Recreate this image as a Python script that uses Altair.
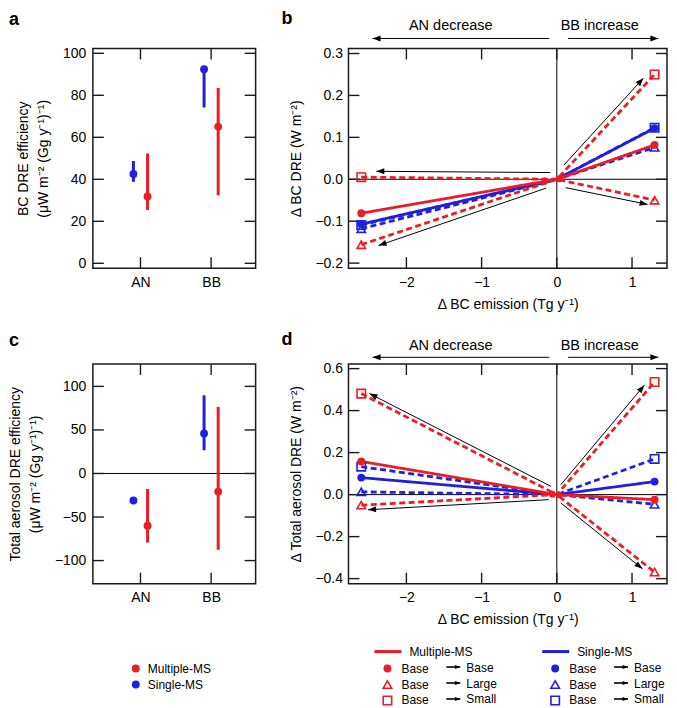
import math
import altair as alt
import pandas as pd

RED = "#ec1c24"
BLUE = "#1f1fe0"
FRAME = "#1a1a1a"
FONT = "Liberation Sans"

# ---------------- data ----------------
groups = ["AN", "BB"]
models = ["Multiple-MS", "Single-MS"]
scenarios = ["Base", "Large", "Small"]

# panel a : BC DRE efficiency
a_red_mid = [31.8, 65.1]
a_red_lo = [25.4, 32.4]
a_red_hi = [52.3, 83.5]
a_blue_mid = [42.5, 92.4]
a_blue_lo = [38.8, 74.2]
a_blue_hi = [48.7, 92.4]

# panel c : total aerosol DRE efficiency
c_red_mid = [-60.0, -20.8]
c_red_lo = [-79.3, -87.6]
c_red_hi = [-17.8, 76.5]
c_blue_mid = [-31.0, 46.0]
c_blue_lo = [-31.0, 26.7]
c_blue_hi = [-31.0, 89.8]

# panels b, d : delta BC emission (AN decrease, origin, BB increase)
emission = [-2.6, 0.0, 1.3]
b_red_base = [-0.081, 0.0, 0.082]
b_red_large = [-0.156, 0.0, -0.050]
b_red_small = [0.005, 0.0, 0.250]
b_blue_base = [-0.107, 0.0, 0.122]
b_blue_large = [-0.118, 0.0, 0.076]
b_blue_small = [-0.109, 0.0, 0.123]

d_red_base = [0.158, 0.0, -0.024]
d_red_large = [-0.050, 0.0, -0.369]
d_red_small = [0.481, 0.0, 0.536]
d_blue_base = [0.081, 0.0, 0.062]
d_blue_large = [0.013, 0.0, -0.046]
d_blue_small = [0.133, 0.0, 0.170]

# small Multiple-MS markers near the origin
b_origin_x = [-0.16, 0.03]
b_origin_y = [-0.004, 0.001]
d_origin_x = [-0.06, 0.03]
d_origin_y = [0.002, -0.001]

# annotation arrows inside panels (tail -> head)
b_arrow_x1 = [-0.085, -0.14, 0.095, 0.117]
b_arrow_y1 = [0.016, -0.021, 0.034, -0.020]
b_arrow_x2 = [-2.40, -2.37, 1.15, 1.207]
b_arrow_y2 = [0.019, -0.158, 0.241, -0.060]
d_arrow_x1 = [-0.077, -0.107, 0.053, 0.053]
d_arrow_y1 = [0.039, -0.024, 0.047, -0.040]
d_arrow_x2 = [-2.49, -2.51, 1.164, 1.138]
d_arrow_y2 = [0.481, -0.072, 0.521, -0.353]

header_text = ["AN decrease", "BB increase"]
header_text_x = [-1.41, 0.57]
header_arrow_x1 = [-0.10, 0.15]
header_arrow_x2 = [-2.45, 1.35]

# ---------------- layout / style ----------------
W_L, W_R, H = 163, 319, 220
COL_GAP, ROW_GAP = 93, 96
TL = 11  # inward tick length
ARROW = "M0,0L2,-0.75L2,0.75Z"
EFF_XDOM = [0.326, 2.63]
RESP_XDOM = [-2.77, 1.465]

color_scale = alt.Scale(domain=models, range=[RED, BLUE])


def inward_ticks(xenc, yenc, xvals, yvals, W):
    dfy = pd.DataFrame({"v": yvals})
    dfx = pd.DataFrame({"v": xvals})
    by = alt.Chart(dfy).mark_rule(color=FRAME, strokeWidth=1.4)
    bx = alt.Chart(dfx).mark_rule(color=FRAME, strokeWidth=1.4)
    return [
        by.encode(y=yenc("v"), x=alt.value(0), x2=alt.value(TL)),
        by.encode(y=yenc("v"), x=alt.value(W - TL), x2=alt.value(W)),
        bx.encode(x=xenc("v"), y=alt.value(0), y2=alt.value(TL)),
        bx.encode(x=xenc("v"), y=alt.value(H - TL), y2=alt.value(H)),
    ]


def panel_label(label, lx, ly):
    return alt.Chart(pd.DataFrame({"t": [label]})).mark_text(
        font=FONT, fontSize=18, fontWeight="bold", align="left",
        baseline="alphabetic", color="black"
    ).encode(text="t:N", x=alt.value(lx), y=alt.value(ly))


def eff_panel(mid_r, lo_r, hi_r, mid_b, lo_b, hi_b, ydom, yvals, title,
              title_x, label, label_y, zero_line):
    pos, model, mid, lo, hi = [], [], [], [], []
    for i in range(len(groups)):
        for m, dx, M, L, U in (("Single-MS", -0.1, mid_b, lo_b, hi_b),
                               ("Multiple-MS", 0.1, mid_r, lo_r, hi_r)):
            pos.append(i + 1 + dx)
            model.append(m)
            mid.append(M[i])
            lo.append(L[i])
            hi.append(U[i])
    df = pd.DataFrame(dict(pos=pos, model=model, mid=mid, lo=lo, hi=hi))
    xs = alt.Scale(domain=EFF_XDOM, nice=False, zero=False)
    ys = alt.Scale(domain=ydom, nice=False, zero=False)
    lab_expr = f"datum.value == 1 ? '{groups[0]}' : '{groups[1]}'"
    xax = alt.Axis(values=[1, 2], labelExpr=lab_expr, title=None, ticks=False,
                   tickSize=0, domain=False, grid=False, labelPadding=7)
    yax = alt.Axis(values=yvals, format="d", title=title, titleX=title_x,
                   titleY=H / 2, titleAngle=270, titleAlign="center",
                   titleBaseline="alphabetic", titleLineHeight=19.5,
                   ticks=False, tickSize=0, domain=False, grid=False,
                   labelPadding=7)

    def X(f):
        return alt.X(f, type="quantitative", scale=xs, axis=xax)

    def Y(f):
        return alt.Y(f, type="quantitative", scale=ys, axis=yax)

    col = alt.Color("model:N", scale=color_scale, legend=None)
    layers = []
    if zero_line:
        layers.append(alt.Chart(pd.DataFrame({"v": [0]})).mark_rule(
            color="black", strokeWidth=1).encode(
            y=Y("v"), x=alt.value(0), x2=alt.value(W_L)))
    layers += inward_ticks(X, Y, [1, 2], yvals, W_L)
    layers.append(alt.Chart(df).mark_rule(strokeWidth=3).encode(
        x=X("pos"), y=Y("lo"), y2="hi", color=col))
    layers.append(alt.Chart(df).mark_circle(size=62, opacity=1).encode(
        x=X("pos"), y=Y("mid"), color=col))
    layers.append(panel_label(label, -84, label_y))
    return alt.layer(*layers).properties(
        width=W_L, height=H,
        view=alt.ViewBackground(stroke=FRAME, strokeWidth=1.5))


def resp_panel(series, ox, oy, ax1, ay1, ax2, ay2, ydom, yvals, ytitle,
               label, label_y, hdr_text_y, hdr_arrow_y):
    xs = alt.Scale(domain=RESP_XDOM, nice=False, zero=False)
    ys = alt.Scale(domain=ydom, nice=False, zero=False)
    xax = alt.Axis(values=[-2, -1, 0, 1], format="d",
                   title="Δ BC emission (Tg y⁻¹)", titleX=W_R / 2, titleY=40,
                   titleAlign="center", titleBaseline="alphabetic",
                   ticks=False, tickSize=0, domain=False, grid=False,
                   labelPadding=7)
    yax = alt.Axis(values=yvals, format=".1f", title=ytitle, titleX=-48,
                   titleY=H / 2, titleAngle=270, titleAlign="center",
                   titleBaseline="alphabetic", ticks=False, tickSize=0,
                   domain=False, grid=False, labelPadding=6)

    def X(f):
        return alt.X(f, type="quantitative", scale=xs, axis=xax)

    def Y(f):
        return alt.Y(f, type="quantitative", scale=ys, axis=yax)

    px_x = W_R / (RESP_XDOM[1] - RESP_XDOM[0])
    px_y = H / (ydom[1] - ydom[0])

    rows = []
    for m, s, vals in series:
        for xi, yi in zip(emission, vals):
            rows.append(dict(model=m, scen=s, x=xi, y=yi))
    df = pd.DataFrame(rows)
    ends = df[df["x"] != 0]
    col = alt.Color("model:N", scale=color_scale, legend=None)
    dash = alt.StrokeDash("scen:N", scale=alt.Scale(
        domain=scenarios, range=[[1, 0], [6, 3.5], [6, 3.5]]), legend=None)
    shp = alt.Shape("scen:N", scale=alt.Scale(
        domain=["Large", "Small"], range=["triangle-up", "square"]), legend=None)

    zero = pd.DataFrame({"v": [0]})
    layers = [
        alt.Chart(zero).mark_rule(color="black", strokeWidth=1).encode(
            x=X("v"), y=alt.value(0), y2=alt.value(H)),
        alt.Chart(zero).mark_rule(color="black", strokeWidth=1).encode(
            y=Y("v"), x=alt.value(0), x2=alt.value(W_R)),
    ]
    layers += inward_ticks(X, Y, [-2, -1, 0, 1], yvals, W_R)

    # arrows inside panel
    angs = []
    for x1, y1, x2, y2 in zip(ax1, ay1, ax2, ay2):
        dxp = (x2 - x1) * px_x
        dyp = -(y2 - y1) * px_y
        angs.append((math.degrees(math.atan2(dyp, dxp)) - 180) % 360)
    adf = pd.DataFrame(dict(x1=ax1, y1=ay1, x2=ax2, y2=ay2, ang=angs))
    layers.append(alt.Chart(adf).mark_rule(color="black", strokeWidth=1).encode(
        x=X("x1"), y=Y("y1"), x2="x2", y2="y2"))
    layers.append(alt.Chart(adf).mark_point(
        shape=ARROW, filled=True, size=64, color="black", opacity=1,
        strokeWidth=0).encode(x=X("x2"), y=Y("y2"),
                              angle=alt.Angle("ang:Q", scale=None)))

    for m in ["Single-MS", "Multiple-MS"]:
        sub = df[df["model"] == m]
        layers.append(alt.Chart(sub).mark_line(strokeWidth=2.8).encode(
            x=X("x"), y=Y("y"), color=col, strokeDash=dash, detail="scen:N"))
    for m in ["Single-MS", "Multiple-MS"]:
        sub = ends[ends["model"] == m]
        layers.append(alt.Chart(sub[sub["scen"] != "Base"]).mark_point(
            filled=False, size=72, strokeWidth=1.6, opacity=1).encode(
            x=X("x"), y=Y("y"), color=col, shape=shp))
        layers.append(alt.Chart(sub[sub["scen"] == "Base"]).mark_circle(
            size=62, opacity=1).encode(x=X("x"), y=Y("y"), color=col))
    odf = pd.DataFrame(dict(x=ox, y=oy, model=["Multiple-MS"] * len(ox)))
    layers.append(alt.Chart(odf).mark_circle(size=45, opacity=1).encode(
        x=X("x"), y=Y("y"), color=col))

    # header arrows and text above the panel
    hdf = pd.DataFrame(dict(t=header_text, x=header_text_x))
    layers.append(alt.Chart(hdf).mark_text(
        font=FONT, fontSize=14.5, align="center", baseline="alphabetic",
        color="black").encode(x=X("x"), y=alt.value(hdr_text_y), text="t:N"))
    hang = [0 if b < a else 180 for a, b in zip(header_arrow_x1, header_arrow_x2)]
    hadf = pd.DataFrame(dict(x1=header_arrow_x1, x2=header_arrow_x2, ang=hang))
    layers.append(alt.Chart(hadf).mark_rule(color="black", strokeWidth=1).encode(
        x=X("x1"), x2="x2", y=alt.value(hdr_arrow_y)))
    layers.append(alt.Chart(hadf).mark_point(
        shape=ARROW, filled=True, size=64, color="black", opacity=1,
        strokeWidth=0).encode(x=X("x2"), y=alt.value(hdr_arrow_y),
                              angle=alt.Angle("ang:Q", scale=None)))
    layers.append(panel_label(label, -67, label_y))
    return alt.layer(*layers).properties(
        width=W_R, height=H,
        view=alt.ViewBackground(stroke=FRAME, strokeWidth=1.5))


panel_a = eff_panel(a_red_mid, a_red_lo, a_red_hi, a_blue_mid, a_blue_lo,
                    a_blue_hi, [-2.3, 102.3], [0, 20, 40, 60, 80, 100],
                    ["BC DRE efficiency", "(μW m⁻² (Gg y⁻¹)⁻¹)"], -65,
                    "a", -24, False)
panel_c = eff_panel(c_red_mid, c_red_lo, c_red_hi, c_blue_mid, c_blue_lo,
                    c_blue_hi, [-126.5, 125.7], [-100, -50, 0, 50, 100],
                    ["Total aerosol DRE efficiency", "(μW m⁻² (Gg y⁻¹)⁻¹)"],
                    -73, "c", -18.5, True)

b_series = [
    ("Multiple-MS", "Base", b_red_base), ("Multiple-MS", "Large", b_red_large),
    ("Multiple-MS", "Small", b_red_small), ("Single-MS", "Base", b_blue_base),
    ("Single-MS", "Large", b_blue_large), ("Single-MS", "Small", b_blue_small),
]
d_series = [
    ("Multiple-MS", "Base", d_red_base), ("Multiple-MS", "Large", d_red_large),
    ("Multiple-MS", "Small", d_red_small), ("Single-MS", "Base", d_blue_base),
    ("Single-MS", "Large", d_blue_large), ("Single-MS", "Small", d_blue_small),
]
panel_b = resp_panel(b_series, b_origin_x, b_origin_y, b_arrow_x1, b_arrow_y1,
                     b_arrow_x2, b_arrow_y2, [-0.212, 0.312],
                     [-0.2, -0.1, 0.0, 0.1, 0.2, 0.3], "Δ BC DRE (W m⁻²)",
                     "b", -24.5, -18.5, -10)
panel_d = resp_panel(d_series, d_origin_x, d_origin_y, d_arrow_x1, d_arrow_y1,
                     d_arrow_x2, d_arrow_y2, [-0.424, 0.622],
                     [-0.4, -0.2, 0.0, 0.2, 0.4, 0.6],
                     "Δ Total aerosol DRE (W m⁻²)", "d", -19, -14.5, -6.7)

# ---------------- legends (own cells, pixel-identity scales) ----------------
LX = alt.Scale(domain=[0, 100], range=[0, 100])
LY = alt.Scale(domain=[0, 100], range=[0, 100])
LEG_HEAD = -28
LEG_ROWS = [-11, 5, 21]
SHAPES = {"Base": "circle", "Large": "triangle-up", "Small": "square"}
MCOL = {"Multiple-MS": RED, "Single-MS": BLUE}


def lx(f):
    return alt.X(f, type="quantitative", scale=LX, axis=None)


def ly(f):
    return alt.Y(f, type="quantitative", scale=LY, axis=None)


def legend_layers(pts, lines, texts, arrows):
    layers = []
    if lines:
        ldf = pd.DataFrame(lines, columns=["px", "px2", "py", "col"])
        layers.append(alt.Chart(ldf).mark_rule(strokeWidth=3).encode(
            x=lx("px"), x2="px2", y=ly("py"),
            color=alt.Color("col:N", scale=None)))
    if arrows:
        adf = pd.DataFrame(arrows, columns=["px", "px2", "py"])
        adf["ang"] = 180
        layers.append(alt.Chart(adf).mark_rule(
            strokeWidth=1.6, color="black").encode(
            x=lx("px"), x2="px2", y=ly("py")))
        layers.append(alt.Chart(adf).mark_point(
            shape=ARROW, filled=True, size=30, color="black", opacity=1,
            strokeWidth=0).encode(x=lx("px2"), y=ly("py"),
                                  angle=alt.Angle("ang:Q", scale=None)))
    pdf = pd.DataFrame(pts, columns=["px", "py", "col", "shp"])
    filled = pdf[pdf["shp"] == "circle"]
    hollow = pdf[pdf["shp"] != "circle"]
    layers.append(alt.Chart(filled).mark_circle(size=62, opacity=1).encode(
        x=lx("px"), y=ly("py"), color=alt.Color("col:N", scale=None)))
    if len(hollow):
        layers.append(alt.Chart(hollow).mark_point(
            filled=False, size=72, strokeWidth=1.6, opacity=1).encode(
            x=lx("px"), y=ly("py"), color=alt.Color("col:N", scale=None),
            shape=alt.Shape("shp:N", scale=None)))
    tdf = pd.DataFrame(texts, columns=["px", "py", "t"])
    layers.append(alt.Chart(tdf).mark_text(
        font=FONT, fontSize=12, align="left", baseline="middle",
        color="black").encode(x=lx("px"), y=ly("py"), text="t:N"))
    return layers


left_pts, left_txt = [], []
for m, yy in zip(models, LEG_ROWS[:2]):
    left_pts.append((43, yy, MCOL[m], "circle"))
    left_txt.append((55, yy, m))
legend_left = alt.layer(*legend_layers(left_pts, [], left_txt, [])).properties(
    width=W_L, height=20)

right_pts, right_lines, right_txt, right_arrows = [], [], [], []
for m, dx in zip(models, [0, 168]):
    right_lines.append((26 + dx, 53 + dx, LEG_HEAD, MCOL[m]))
    right_txt.append((61 + dx, LEG_HEAD, m))
    for s, yy in zip(scenarios, LEG_ROWS):
        right_pts.append((39 + dx, yy, MCOL[m], SHAPES[s]))
        right_txt.append((53 + dx, yy, "Base"))
        right_arrows.append((98 + dx, 112 + dx, yy - 1.5))
        right_txt.append((118 + dx, yy - 1, s))
legend_right = alt.layer(
    *legend_layers(right_pts, right_lines, right_txt, right_arrows)
).properties(width=W_R, height=20)

chart = alt.concat(
    panel_a, panel_b, panel_c, panel_d, legend_left, legend_right,
    columns=2, spacing={"row": ROW_GAP, "column": COL_GAP},
    bounds="flush", align="each",
).properties(padding=0, background="white").configure_view(
    stroke=None
).configure_axis(
    labelFont=FONT, labelFontSize=14, labelColor="black",
    titleFont=FONT, titleFontSize=14, titleFontWeight="normal",
    titleColor="black", grid=False,
)

chart.save("out.html", embed_options={"renderer": "svg", "actions": False})
